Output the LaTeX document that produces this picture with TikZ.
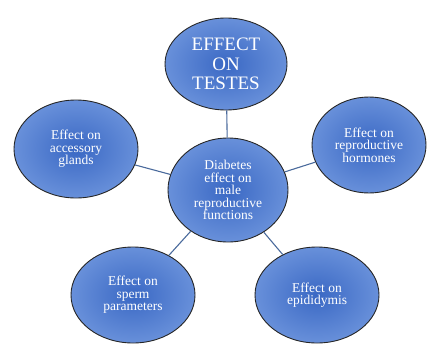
\documentclass[tikz,border=0pt]{standalone}
\usepackage{fontspec}
\setmainfont{Liberation Serif}
\usetikzlibrary{shapes.geometric}
\definecolor{bluein}{HTML}{3A68C4}
\definecolor{blueout}{HTML}{6890DA}
\definecolor{linkc}{HTML}{4A6A9C}
\tikzset{
  bubble/.style={ellipse, draw=black!85, line width=0.9pt, inner color=bluein, outer color=blueout,
    text=white, align=center, font=\fontsize{13.5}{12.5}\selectfont, inner sep=0pt},
  link/.style={draw=linkc, line width=1.1pt}
}
\begin{document}
\begin{tikzpicture}[x=1pt,y=-1pt]
\useasboundingbox (0,0) rectangle (427,345);
\node[bubble, minimum width=122pt, minimum height=92pt, font=\fontsize{19}{19.5}\selectfont] (t) at (226,64) {EFFECT\\ON\\TESTES};
\node[bubble, minimum width=120pt, minimum height=104pt] (c) at (228,190) {Diabetes\\effect on\\male\\reproductive\\functions};
\node[bubble, minimum width=124pt, minimum height=98pt] (l) at (76,149) {Effect on\\accessory\\glands};
\node[bubble, minimum width=114pt, minimum height=96pt] (r) at (369,145) {Effect on\\reproductive\\hormones};
\node[bubble, minimum width=124pt, minimum height=96pt] (bl) at (133,295) {Effect on\\sperm\\parameters};
\node[bubble, minimum width=124pt, minimum height=96pt] (br) at (317,295) {Effect on\\epididymis};
\draw[link] (c) -- (t);
\draw[link] (c) -- (l);
\draw[link] (c) -- (r);
\draw[link] (c) -- (bl);
\draw[link] (c) -- (br);
\end{tikzpicture}
\end{document}
